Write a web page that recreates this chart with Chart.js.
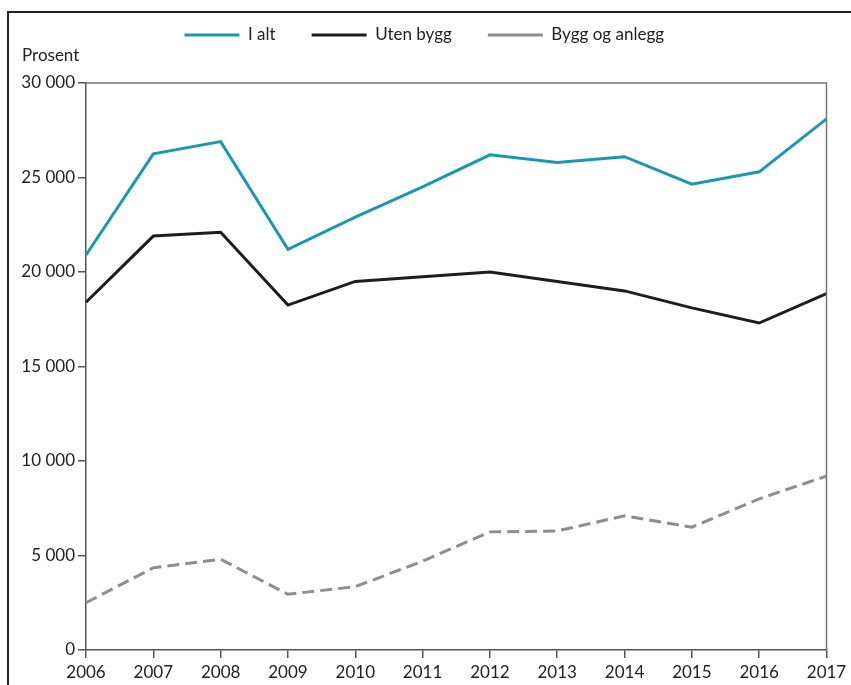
<!DOCTYPE html>
<html>
<head>
<meta charset="utf-8">
<script src="https://cdn.jsdelivr.net/npm/chart.js@4/dist/chart.umd.min.js"></script>
<style>
  html, body { margin: 0; padding: 0; background: #fff; overflow: hidden; }
  #frame { position: absolute; left: 7px; top: 11px; width: 900px; height: 700px;
           border-left: 2px solid #222; border-top: 2px solid #222; }
  #wrap { position: absolute; left: 0; top: 0; width: 851px; height: 685px; }
</style>
</head>
<body>
<div id="frame"></div>
<div id="wrap"><canvas id="myChart"></canvas></div>
<script>
const years = ['2006','2007','2008','2009','2010','2011','2012','2013','2014','2015','2016','2017'];
const iAlt = [20900, 26250, 26900, 21200, 22900, 24500, 26200, 25800, 26100, 24650, 25300, 28100];
const utenBygg = [18400, 21900, 22100, 18250, 19500, 19750, 20000, 19500, 19000, 18100, 17300, 18850];
const byggOgAnlegg = [2500, 4350, 4800, 2950, 3350, 4700, 6250, 6300, 7100, 6500, 8000, 9200];
const yTicks = [0, 5000, 10000, 15000, 20000, 25000, 30000];

const FONT = 'Lato';
Chart.defaults.font.family = FONT;
Chart.defaults.font.size = 17;
Chart.defaults.color = '#222';

// thin frame on top and right of plot area
const frame = {
  id: 'frame',
  afterDraw(chart){
    const {ctx, chartArea} = chart;
    ctx.save();
    ctx.strokeStyle = '#777';
    ctx.lineWidth = 1.5;
    ctx.beginPath();
    ctx.moveTo(chartArea.left, chartArea.top);
    ctx.lineTo(chartArea.right, chartArea.top);
    ctx.lineTo(chartArea.right, chartArea.bottom);
    ctx.stroke();
    ctx.restore();
  }
};

function fmt(v){
  return String(v).replace(/\B(?=(\d{3})+(?!\d))/g, ' ');
}

const ctx = document.getElementById('myChart');
new Chart(ctx, {
  type: 'line',
  data: {
    labels: years,
    datasets: [
      { label: 'I alt', data: iAlt, borderColor: '#1a97b4', borderWidth: 3 },
      { label: 'Uten bygg', data: utenBygg, borderColor: '#1d1d1d', borderWidth: 3 },
      { label: 'Bygg og anlegg', data: byggOgAnlegg, borderColor: '#8e8e8e', borderWidth: 3, borderDash: [12, 6] }
    ]
  },
  options: {
    responsive: true,
    maintainAspectRatio: false,
    animation: false,
    elements: { point: { radius: 0 }, line: { tension: 0 } },
    layout: { padding: { top: -9.5, left: 22, right: 24.5, bottom: 0 } },
    plugins: {
      legend: {
        position: 'top',
        labels: {
          usePointStyle: true,
          pointStyle: 'line',
          pointStyleWidth: 55,
          boxHeight: 17,
          padding: 36,
          color: '#222',
          font: { size: 17 }
        }
      },
      title: {
        display: true,
        text: 'Prosent',
        align: 'start',
        weight: 500,
        color: '#222',
        font: { size: 17, weight: 'normal' },
        padding: { top: -7.7, bottom: 16.8 }
      },
      tooltip: { enabled: false }
    },
    scales: {
      x: {
        offset: false,
        grid: { drawOnChartArea: false, drawTicks: true, tickLength: 8, color: '#555', lineWidth: 1.5 },
        border: { color: '#555', width: 1.5 },
        ticks: { padding: 4, color: '#222', maxRotation: 0, autoSkip: false },
        afterFit(scale){ scale.height = 35; }
      },
      y: {
        min: 0,
        max: 30000,
        afterBuildTicks(scale){ scale.ticks = yTicks.map(v => ({ value: v })); },
        grid: { drawOnChartArea: false, drawTicks: true, tickLength: 8, color: '#555', lineWidth: 1.5 },
        border: { color: '#555', width: 1.5 },
        ticks: { padding: 3, color: '#222', callback: v => fmt(v) },
        afterFit(scale){ scale.width = 64; }
      }
    }
  },
  plugins: [frame]
});
</script>
</body>
</html>
